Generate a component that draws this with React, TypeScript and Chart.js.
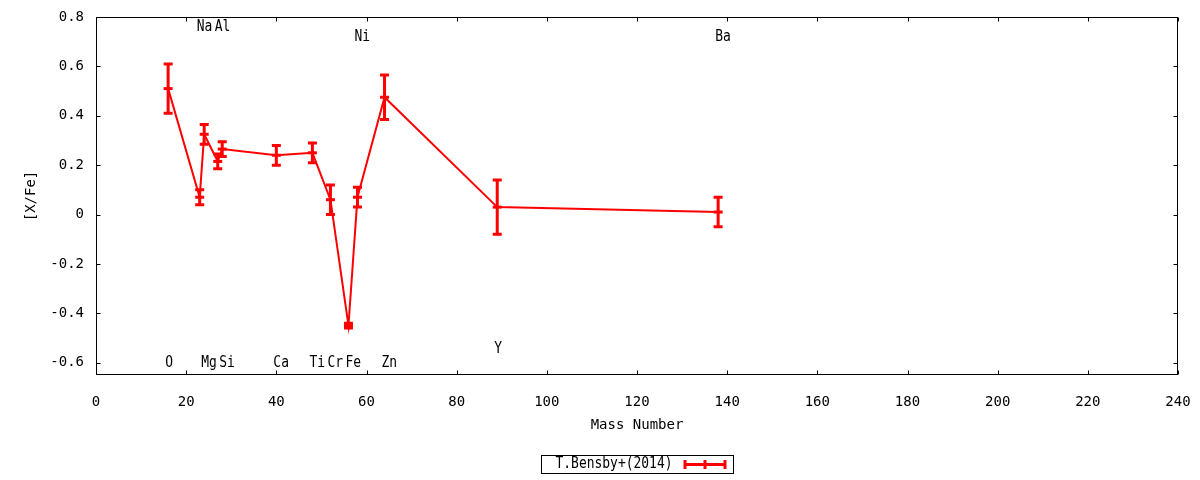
import { useEffect, useRef } from "react";
import { Chart, registerables } from "chart.js";

Chart.register(...registerables);

// ---- data ----
const elements = ["O", "Na", "Mg", "Al", "Si", "Ca", "Ti", "Cr", "Fe", "Ni", "Zn", "Y", "Ba"];
const massNumbers = [16, 23, 24, 27, 28, 40, 48, 52, 56, 58, 64, 89, 138];
const xfeValues = [0.51, 0.07, 0.325, 0.215, 0.265, 0.24, 0.25, 0.06, -0.45, 0.07, 0.475, 0.03, 0.01];
const xfeErrors = [0.1, 0.03, 0.04, 0.03, 0.03, 0.04, 0.04, 0.06, 0.01, 0.04, 0.09, 0.11, 0.06];
const labelYValues = [-0.6, 0.76, -0.6, 0.76, -0.6, -0.6, -0.6, -0.6, -0.6, 0.72, -0.6, -0.545, 0.72];

const seriesLabel = "T.Bensby+(2014)";
const xTitle = "Mass Number";
const yTitle = "[X/Fe]";
const xMin = 0;
const xMax = 240;
const xStep = 20;
const yMin = -0.65;
const yMax = 0.8;
const yStep = 0.2;

// ---- styles ----
const RED = "#ff0000";
const FONT_FAMILY = '"DejaVu Sans Mono", "Liberation Mono", monospace';
const CHAR_W = 7.8;

const framePlugin = {
  id: "gnuplotFrame",
  afterDraw(chart: any) {
    const { ctx, chartArea } = chart;
    const xs = chart.scales.x;
    const ys = chart.scales.y;
    const L = Math.round(chartArea.left) + 0.5;
    const R = Math.round(chartArea.right) - 0.5;
    const T = Math.round(chartArea.top) + 0.5;
    const B = Math.round(chartArea.bottom) - 0.5;
    ctx.save();
    ctx.strokeStyle = "#000";
    ctx.lineWidth = 1;
    ctx.strokeRect(L, T, R - L, B - T);
    const tl = 4;
    ctx.beginPath();
    xs.ticks.forEach((t: any) => {
      const px = Math.round(xs.getPixelForValue(t.value)) + 0.5;
      ctx.moveTo(px, B);
      ctx.lineTo(px, B - tl);
      ctx.moveTo(px, T);
      ctx.lineTo(px, T + tl);
    });
    ys.ticks.forEach((t: any) => {
      const py = Math.round(ys.getPixelForValue(t.value)) + 0.5;
      ctx.moveTo(L, py);
      ctx.lineTo(L + tl, py);
      ctx.moveTo(R, py);
      ctx.lineTo(R - tl, py);
    });
    ctx.stroke();
    ctx.restore();
  },
};

const errorBarPlugin = {
  id: "errorBars",
  afterDatasetsDraw(chart: any) {
    const { ctx } = chart;
    const xs = chart.scales.x;
    const ys = chart.scales.y;
    ctx.save();
    ctx.strokeStyle = RED;
    ctx.lineWidth = 3;
    ctx.lineCap = "butt";
    massNumbers.forEach((m, i) => {
      const px = xs.getPixelForValue(m);
      const top = ys.getPixelForValue(xfeValues[i] + xfeErrors[i]);
      const bot = ys.getPixelForValue(xfeValues[i] - xfeErrors[i]);
      ctx.beginPath();
      ctx.moveTo(px, top - 1.5);
      ctx.lineTo(px, bot + 1.5);
      ctx.moveTo(px - 4.5, top);
      ctx.lineTo(px + 4.5, top);
      ctx.moveTo(px - 4.5, bot);
      ctx.lineTo(px + 4.5, bot);
      ctx.stroke();
    });
    ctx.restore();
  },
};

const labelPlugin = {
  id: "elementLabels",
  afterDatasetsDraw(chart: any) {
    const { ctx } = chart;
    const xs = chart.scales.x;
    const ys = chart.scales.y;
    ctx.save();
    ctx.fillStyle = "#000";
    ctx.font = `15px ${FONT_FAMILY}`;
    ctx.textAlign = "left";
    ctx.textBaseline = "middle";
    elements.forEach((el, i) => {
      const px = xs.getPixelForValue(massNumbers[i]) - 3;
      const py = ys.getPixelForValue(labelYValues[i]);
      ctx.fillText(el, px, py, el.length * CHAR_W);
    });
    ctx.restore();
  },
};

const legendPlugin = {
  id: "gnuplotLegend",
  afterDraw(chart: any) {
    const { ctx, chartArea } = chart;
    const cx = (chartArea.left + chartArea.right) / 2;
    const boxW = 192;
    const boxH = 18;
    const left = Math.round(cx - boxW / 2) + 0.5;
    const top = 455.5;
    const midY = top + boxH / 2;
    ctx.save();
    ctx.strokeStyle = "#000";
    ctx.lineWidth = 1;
    ctx.strokeRect(left, top, boxW, boxH);
    ctx.fillStyle = "#000";
    ctx.font = `15px ${FONT_FAMILY}`;
    ctx.textAlign = "left";
    ctx.textBaseline = "middle";
    ctx.fillText(seriesLabel, left + 14, midY, seriesLabel.length * CHAR_W);
    const s0 = left + 142;
    const s1 = left + 185;
    const sm = (s0 + s1) / 2;
    ctx.strokeStyle = RED;
    ctx.lineWidth = 3;
    ctx.beginPath();
    ctx.moveTo(s0, midY);
    ctx.lineTo(s1, midY);
    ctx.moveTo(s0 + 1.5, midY - 4.5);
    ctx.lineTo(s0 + 1.5, midY + 4.5);
    ctx.moveTo(s1 - 1.5, midY - 4.5);
    ctx.lineTo(s1 - 1.5, midY + 4.5);
    ctx.moveTo(sm, midY - 4.5);
    ctx.lineTo(sm, midY + 4.5);
    ctx.stroke();
    ctx.restore();
  },
};

function zeroPadding(scale: any) {
  scale.paddingLeft = 0;
  scale.paddingRight = 0;
  scale.paddingTop = 0;
  scale.paddingBottom = 0;
}

export default function App() {
  const canvasRef = useRef<HTMLCanvasElement | null>(null);

  useEffect(() => {
    if (!canvasRef.current) return;
    const tickFont = { family: FONT_FAMILY, size: 14 };
    const chart = new Chart(canvasRef.current, {
      type: "line",
      data: {
        datasets: [
          {
            label: seriesLabel,
            data: massNumbers.map((m, i) => ({ x: m, y: xfeValues[i] })),
            borderColor: RED,
            backgroundColor: RED,
            borderWidth: 2,
            tension: 0,
            fill: false,
            pointStyle: "line",
            pointRadius: 4.5,
            pointBorderWidth: 3,
            pointBorderColor: RED,
            pointHoverRadius: 4.5,
          },
        ],
      },
      options: {
        animation: false,
        responsive: false,
        devicePixelRatio: 1,
        layout: { padding: { top: 17, right: 22, bottom: 40, left: 0 } },
        plugins: {
          legend: { display: false },
          tooltip: { enabled: false },
        },
        events: [],
        scales: {
          x: {
            type: "linear",
            min: xMin,
            max: xMax,
            grid: { display: false, drawTicks: false },
            border: { display: false },
            ticks: {
              stepSize: xStep,
              autoSkip: false,
              maxRotation: 0,
              color: "#000",
              font: tickFont,
              padding: 19,
            },
            title: {
              display: true,
              text: xTitle,
              color: "#000",
              font: tickFont,
              padding: { top: 0, bottom: 6 },
            },
            afterFit(scale: any) {
              scale.height = 65;
              zeroPadding(scale);
            },
          },
          y: {
            type: "linear",
            min: yMin,
            max: yMax,
            grid: { display: false, drawTicks: false },
            border: { display: false },
            ticks: {
              stepSize: yStep,
              includeBounds: false,
              color: "#000",
              font: tickFont,
              padding: 12,
            },
            title: {
              display: true,
              text: yTitle,
              color: "#000",
              font: tickFont,
              padding: { top: 22.6, bottom: 0 },
            },
            afterFit(scale: any) {
              scale.width = 96;
              zeroPadding(scale);
            },
          },
        },
      },
      plugins: [framePlugin, errorBarPlugin, labelPlugin, legendPlugin],
    });
    return () => chart.destroy();
  }, []);

  return (
    <div style={{ position: "fixed", left: 0, top: 0, width: 1200, height: 480, background: "#fff" }}>
      <canvas ref={canvasRef} width={1200} height={480} style={{ width: 1200, height: 480, display: "block" }} />
    </div>
  );
}
